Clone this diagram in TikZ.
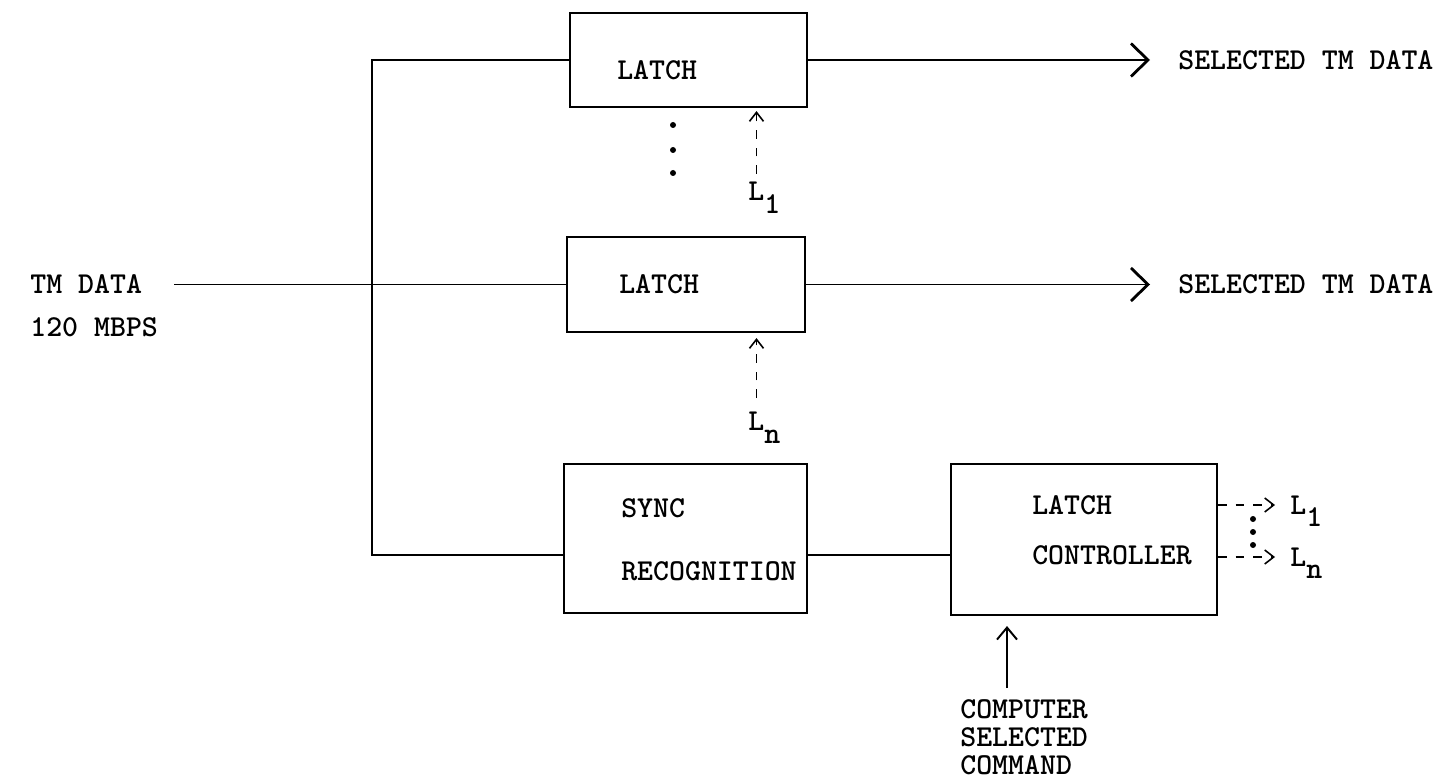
\documentclass[tikz,border=0pt]{standalone}
\usepackage{fontspec}
\usepackage{tikz}
\usetikzlibrary{arrows.meta,positioning}
\newcommand{\lowidx}[1]{\raisebox{-0.4em}[0pt][0pt]{#1}}

\begin{document}
\begin{tikzpicture}[
    font=\fontsize{17.28}{22}\selectfont\ttfamily\bfseries,
    box/.style={draw, line width=1.2pt, inner sep=0pt},
    lbl/.style={inner sep=0pt, align=left},
    wire/.style={line width=1.1pt},
    sel/.style={wire, -{Straight Barb[length=3.4mm, width=6.6mm, line width=1.6pt]}},
    ctl/.style={line width=0.9pt, dash pattern=on 5pt off 5pt, -{Straight Barb[length=1.8mm, width=2.8mm]}},
    cmdarrow/.style={wire, -{Straight Barb[length=2.4mm, width=4mm]}}
]
\useasboundingbox (0,0) rectangle (28.74,-15.68);

% blocks
\node[box, minimum width=4.74cm, minimum height=1.88cm] (latchA) at (13.77,-1.2) {};
\node[box, minimum width=4.76cm, minimum height=1.9cm] (latchB) at (13.72,-5.69) {};
\node[box, minimum width=4.86cm, minimum height=2.98cm] (sync) at (13.71,-10.77) {};
\node[box, minimum width=5.32cm, minimum height=3.02cm] (ctrl) at (21.68,-10.79) {};

\node[lbl, right=0.96cm of latchA.west, yshift=-0.2cm] (latchAtxt) {LATCH};
\node[lbl, right=1.06cm of latchB.west] (latchBtxt) {LATCH};
\node[lbl, right=1.16cm of sync.west, yshift=-0.03cm] (synctxt) {SYNC\\[14pt]RECOGNITION};
\node[lbl, right=1.64cm of ctrl.west, yshift=0.19cm] (ctrltxt) {LATCH\\[6.5pt]CONTROLLER};

% inputs and outputs
\node[lbl, anchor=west] (tmdata) at (0.6,-5.69) {TM DATA};
\node[lbl, anchor=west] (rate) at (0.6,-6.54) {120 MBPS};
\node[lbl, anchor=west] (outA) at (23.56,-1.2) {SELECTED TM DATA};
\node[lbl, anchor=west] (outB) at (23.56,-5.69) {SELECTED TM DATA};
\node[lbl, anchor=north west] (lA) at (14.96,-3.64) {L\lowidx{1}};
\node[lbl, anchor=north west] (lB) at (14.96,-8.24) {L\lowidx{n}};
\node[lbl, anchor=west] (oL1) at (25.8,-10.1) {L\lowidx{1}};
\node[lbl, anchor=west] (oLn) at (25.8,-11.14) {L\lowidx{n}};
\node[lbl, anchor=north west, font=\fontsize{17.28}{16}\selectfont\ttfamily\bfseries] (cmd) at (19.2,-13.98) {COMPUTER\\SELECTED\\COMMAND};

% data bus
\coordinate (busTop) at (7.44,-1.2);
\coordinate (busBot) at (7.44,-11.1);
\draw[wire] (latchA.west) -- (busTop) -- (busBot) -- (busBot -| sync.west);
\draw[wire] (sync.east |- busBot) -- (ctrl.west |- busBot);
\draw[wire, shorten <=0.64cm] (tmdata.east) -- (latchB.west);

\draw[sel, shorten >=0.56cm] (latchA.east) -- (outA.west);
\draw[sel, shorten >=0.56cm] (latchB.east) -- (outB.west);

% latch selects
\draw[ctl, shorten <=0.16cm, shorten >=0.06cm] ([xshift=0.17cm]lA.north west) -- ([xshift=0.17cm]lA.north west |- latchA.south);
\draw[ctl, shorten <=0.28cm, shorten >=0.1cm] ([xshift=0.17cm]lB.north west) -- ([xshift=0.17cm]lB.north west |- latchB.south);
\draw[ctl, shorten >=0.3cm] (ctrl.east |- oL1.west) -- (oL1.west);
\draw[ctl, shorten >=0.3cm] (ctrl.east |- oLn.west) -- (oLn.west);
\draw[cmdarrow, shorten <=0.22cm, shorten >=0.2cm] ([xshift=0.94cm]cmd.north west) -- ([xshift=0.94cm]cmd.north west |- ctrl.south);

\foreach \y in {-2.5,-3.0,-3.46} \fill (13.46,\y) circle (0.06);
\foreach \y in {-10.38,-10.64,-10.9} \fill (25.06,\y) circle (0.06);
\end{tikzpicture}
\end{document}
